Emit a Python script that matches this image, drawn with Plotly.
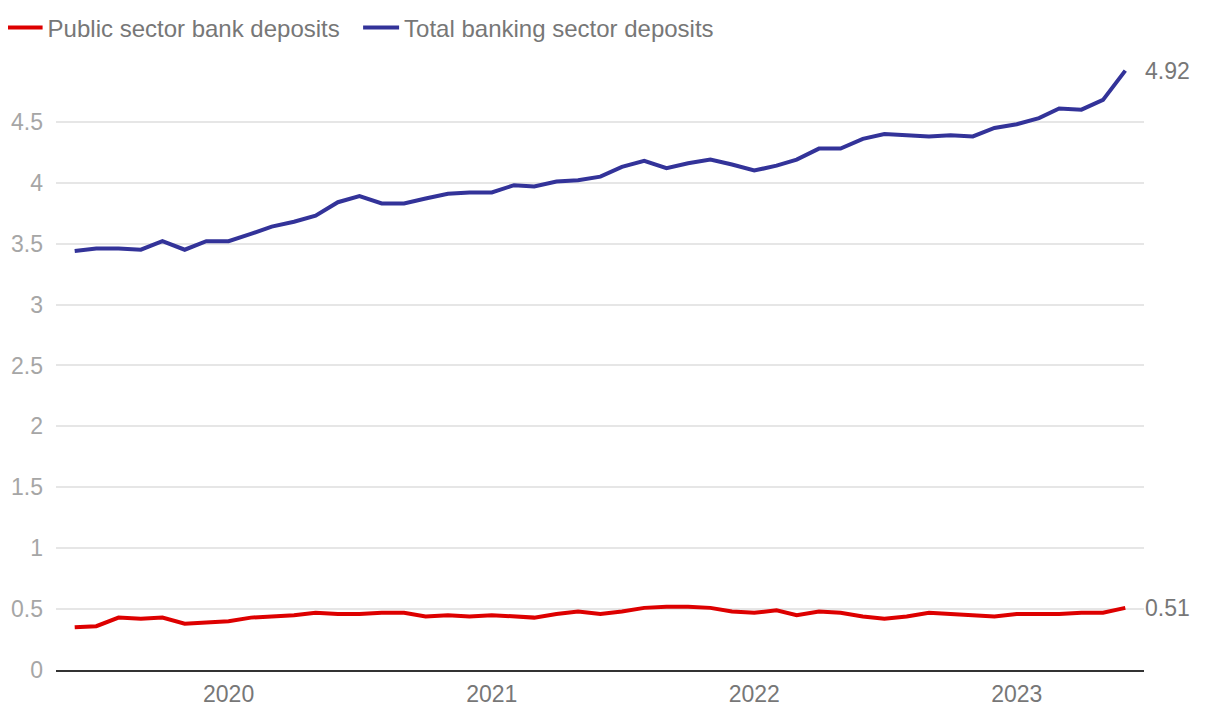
import plotly.graph_objects as go
import pandas as pd

dates = pd.date_range("2019-06-01", "2023-06-01", freq="MS")

public_sector = [0.35, 0.36, 0.43, 0.42, 0.43, 0.38, 0.39, 0.40, 0.43, 0.44,
                 0.45, 0.47, 0.46, 0.46, 0.47, 0.47, 0.44, 0.45, 0.44, 0.45,
                 0.44, 0.43, 0.46, 0.48, 0.46, 0.48, 0.51, 0.52, 0.52, 0.51,
                 0.48, 0.47, 0.49, 0.45, 0.48, 0.47, 0.44, 0.42, 0.44, 0.47,
                 0.46, 0.45, 0.44, 0.46, 0.46, 0.46, 0.47, 0.47, 0.51]

total_banking = [3.44, 3.46, 3.46, 3.45, 3.52, 3.45, 3.52, 3.52, 3.58, 3.64,
                 3.68, 3.73, 3.84, 3.89, 3.83, 3.83, 3.87, 3.91, 3.92, 3.92,
                 3.98, 3.97, 4.01, 4.02, 4.05, 4.13, 4.18, 4.12, 4.16, 4.19,
                 4.15, 4.10, 4.14, 4.19, 4.28, 4.28, 4.36, 4.40, 4.39, 4.38,
                 4.39, 4.38, 4.45, 4.48, 4.53, 4.61, 4.60, 4.68, 4.92]

series_names = ["Public sector bank deposits", "Total banking sector deposits"]
series_colors = ["#dd0000", "#333399"]
legend_pad = ["\u00a0\u00a0", ""]

fig = go.Figure()
for name, vals, col, pad in zip(series_names, [public_sector, total_banking],
                                series_colors, legend_pad):
    fig.add_trace(go.Scatter(x=dates, y=vals, name=name + pad, mode="lines",
                             line=dict(color=col, width=4)))
    fig.add_annotation(x=dates[-1], y=vals[-1], text=f"{vals[-1]:.2f}",
                       xanchor="left", yanchor="middle", xshift=18, showarrow=False,
                       font=dict(size=23, color="#777777"))

fig.update_layout(
    width=1204, height=700,
    margin=dict(l=48, r=68, t=59, b=38, autoexpand=False),
    paper_bgcolor="white", plot_bgcolor="white",
    font=dict(family="Liberation Sans, Arial, sans-serif", color="#777777"),
    showlegend=True,
    legend=dict(orientation="h", x=-0.05, xanchor="left", y=1.065, yanchor="middle",
                font=dict(size=24, color="#777777"), itemwidth=36,
                bgcolor="rgba(0,0,0,0)"),
    xaxis=dict(type="date", range=["2019-05-06", "2023-06-27"],
               dtick="M12", tick0="2020-01-01", tickformat="%Y",
               showgrid=False, showline=True, linecolor="#333333", linewidth=2,
               ticks="", tickfont=dict(size=23, color="#777777"), zeroline=False,
               ticklabelstandoff=2, automargin=False),
    yaxis=dict(range=[0, 4.95], dtick=0.5, tick0=0, showgrid=True,
               gridcolor="#e6e6e6", gridwidth=1.5, zeroline=False,
               ticks="", tickfont=dict(size=23, color="#a6a6a6"),
               ticklabelstandoff=12, showline=False, automargin=False),
)

fig.write_html("out.html")
